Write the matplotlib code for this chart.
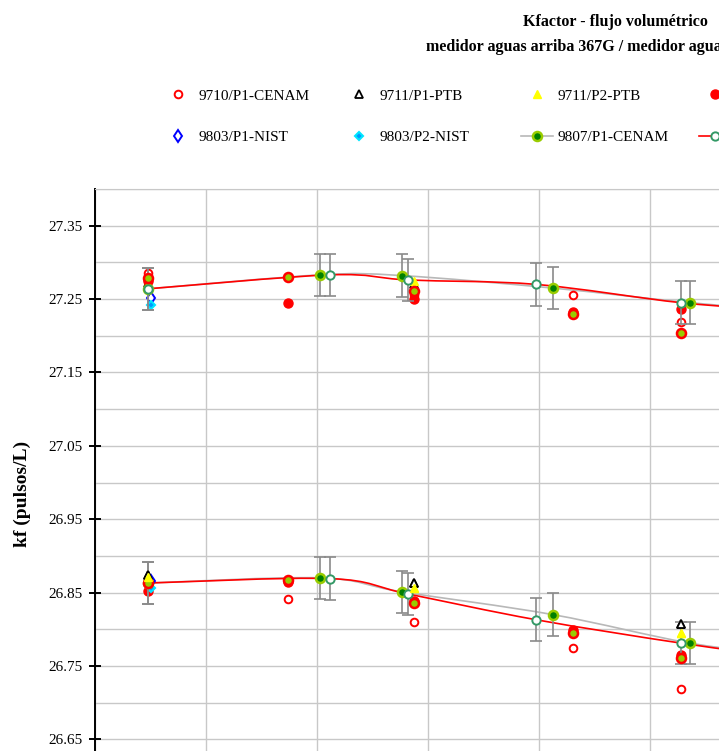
import numpy as np
import matplotlib.pyplot as plt
from matplotlib.path import Path
from matplotlib.patches import PathPatch
from matplotlib.lines import Line2D

plt.rcParams['font.family'] = ['Liberation Serif', 'DejaVu Serif']

# caudal (eje x) y kf: "up" = medidor aguas arriba, "dn" = medidor aguas abajo
x_9710_p1 = [0.48, 1.74, 2.87, 4.30, 5.28]
up_9710_p1 = [27.285, 27.280, 27.255, 27.255, 27.219]
dn_9710_p1 = [26.867, 26.841, 26.810, 26.774, 26.719]

x_9711 = [0.48, 2.87, 5.28]
up_9711_p1 = [27.272, 27.270, np.nan]
dn_9711_p1 = [26.874, 26.863, 26.807]
up_9711_p2 = [27.267, 27.275, np.nan]
dn_9711_p2 = [26.871, 26.856, 26.795]

x_9710_p2 = [0.48, 1.74, 2.87, 4.30, 5.28]
up_9710_p2 = [27.275, 27.245, 27.250, 27.233, 27.237]
dn_9710_p2 = [26.852, 26.865, 26.839, 26.799, 26.765]

x_9803 = [0.50]
up_9803_p1 = [27.252]
dn_9803_p1 = [26.866]
up_9803_p2 = [27.242]
dn_9803_p2 = [26.856]

x_9807_p1 = [0.48, 2.03, 2.76, 4.12, 5.36, 6.35]
up_9807_p1 = [27.264, 27.283, 27.282, 27.265, 27.245, 27.233]
dn_9807_p1 = [26.863, 26.870, 26.851, 26.820, 26.781, 26.762]

x_9807_p2 = [0.48, 2.12, 2.82, 3.97, 5.28, 6.26]
up_9807_p2 = [27.264, 27.283, 27.276, 27.270, 27.245, 27.234]
dn_9807_p2 = [26.863, 26.869, 26.848, 26.813, 26.781, 26.761]

x_9808 = [0.48, 1.74, 2.87, 4.30, 5.28]
up_9808 = [27.279, 27.280, 27.261, 27.229, 27.204]
dn_9808 = [26.863, 26.867, 26.836, 26.795, 26.761]

err_kf = 0.029

ytick_vals = [26.65, 26.75, 26.85, 26.95, 27.05, 27.15, 27.25, 27.35]
ygrid_vals = [26.60, 26.65, 26.70, 26.75, 26.80, 26.85, 26.90, 26.95, 27.00,
              27.05, 27.10, 27.15, 27.20, 27.25, 27.30, 27.35, 27.40]


def smooth_path(x, y):
    # curva suavizada tipo Excel (Bezier por los puntos)
    p = np.column_stack([x, y])
    pts = np.vstack([p[0], p, p[-1]])
    verts = [p[0]]
    codes = [Path.MOVETO]
    for i in range(1, len(pts) - 2):
        c1 = pts[i] + (pts[i + 1] - pts[i - 1]) / 6
        c2 = pts[i + 1] - (pts[i + 2] - pts[i]) / 6
        verts += [c1, c2, pts[i + 1]]
        codes += [Path.CURVE4] * 3
    return Path(verts, codes)


W, H = 719, 751
fig = plt.figure(figsize=(W / 100, H / 100), dpi=100)
ax = fig.add_axes([95 / W, (H - 776) / H, 722 / W, 587 / H])
ax.set_xlim(0, 6.5)
ax.set_ylim(26.60, 27.40)

styles = {
    'p1cenam': dict(marker='o', ms=5.5, mfc='white', mec='red', mew=1.4, ls='none'),
    'p1ptb': dict(marker='^', ms=5.5, mfc='white', mec='black', mew=1.3, ls='none'),
    'p2ptb': dict(marker='^', ms=6, mfc='yellow', mec='yellow', mew=1, ls='none'),
    'p2cenam': dict(marker='o', ms=6.5, mfc='red', mec='red', mew=1, ls='none'),
    'p1nist': dict(marker='d', ms=6, mfc='white', mec='blue', mew=1.4, ls='none'),
    'p2nist': dict(marker='D', ms=4, mfc='#0099ff', mec='#00e5ff', mew=1.5, ls='none'),
    '9807p1': dict(marker='o', ms=6.5, mfc='#008000', mec='#99cc00', mew=1.8, ls='none'),
    '9807p2': dict(marker='o', ms=6, mfc='white', mec='#339966', mew=1.4, ls='none'),
    '9808': dict(marker='o', ms=6.5, mfc='#99cc00', mec='red', mew=1.8, ls='none'),
}

for yy in [up_9710_p1, dn_9710_p1]:
    ax.plot(x_9710_p1, yy, **styles['p1cenam'])
for yy in [up_9711_p1, dn_9711_p1]:
    ax.plot(x_9711, yy, **styles['p1ptb'])
for yy in [up_9711_p2, dn_9711_p2]:
    ax.plot(x_9711, yy, **styles['p2ptb'])
for yy in [up_9710_p2, dn_9710_p2]:
    ax.plot(x_9710_p2, yy, **styles['p2cenam'])
for yy in [up_9803_p1, dn_9803_p1]:
    ax.plot(x_9803, yy, **styles['p1nist'])
for yy in [up_9803_p2, dn_9803_p2]:
    ax.plot(x_9803, yy, **styles['p2nist'])

for xx, yy, col in [(x_9807_p1, up_9807_p1, '#b8b8b8'), (x_9807_p1, dn_9807_p1, '#b8b8b8'),
                    (x_9807_p2, up_9807_p2, 'red'), (x_9807_p2, dn_9807_p2, 'red')]:
    ax.add_patch(PathPatch(smooth_path(xx, yy), fill=False, ec=col, lw=1.2))
    ax.errorbar(xx, yy, yerr=err_kf, fmt='none', ecolor='#8a8a8a', elinewidth=1.2,
                capsize=4, capthick=1.2)

for yy in [up_9807_p1, dn_9807_p1]:
    ax.plot(x_9807_p1, yy, **styles['9807p1'])
for yy in [up_9807_p2, dn_9807_p2]:
    ax.plot(x_9807_p2, yy, **styles['9807p2'])
for yy in [up_9808, dn_9808]:
    ax.plot(x_9808, yy, **styles['9808'])
# triángulos PTB del medidor aguas abajo quedan visibles sobre el resto
ax.plot(x_9711, dn_9711_p1, **styles['p1ptb'])
ax.plot(x_9711, dn_9711_p2, **styles['p2ptb'])

# ejes y rejilla
ax.set_axisbelow(True)
ax.set_yticks(ytick_vals)
ax.set_yticklabels(['%.2f' % v for v in ytick_vals])
ax.set_yticks(ygrid_vals, minor=True)
ax.set_xticks(range(0, 7))
ax.tick_params(axis='x', length=0, labelbottom=False)
ax.tick_params(axis='y', which='major', direction='inout', length=8, width=1.4,
               labelsize=11, pad=5)
ax.tick_params(axis='y', which='minor', length=0)
ax.grid(True, which='both', color='#c8c8c8', lw=1)
ax.spines['left'].set_linewidth(1.4)
ax.spines['top'].set_color('#c8c8c8')
ax.spines['right'].set_visible(False)

fig.text(22 / W, 1 - 494 / H, 'kf (pulsos/L)', rotation=90, ha='center', va='center',
         fontweight='bold', fontsize=14)

fig.text(523 / W, 1 - 22 / H, 'Kfactor - flujo volumétrico', ha='left', va='center',
         fontweight='bold', fontsize=11.5)
fig.text(426 / W, 1 - 47 / H, 'medidor aguas arriba 367G / medidor aguas abajo 367G',
         ha='left', va='center', fontweight='bold', fontsize=11.5)

# leyenda en columnas de ancho fijo
def proxy(key, line=None):
    st = dict(styles[key])
    if line:
        st['ls'] = '-'
        st['color'] = line
        st['lw'] = 1.2
    return Line2D([], [], **st)

columns = [
    [(proxy('p1cenam'), '9710/P1-CENAM'), (proxy('p1nist'), '9803/P1-NIST')],
    [(proxy('p1ptb'), '9711/P1-PTB'), (proxy('p2nist'), '9803/P2-NIST')],
    [(proxy('p2ptb'), '9711/P2-PTB'), (proxy('9807p1', '#b8b8b8'), '9807/P1-CENAM')],
    [(proxy('p2cenam'), '9710/P2-CENAM'), (proxy('9807p2', 'red'), '9807/P2-CENAM')],
]
col_centers = [178, 359, 537, 715]
for cx, entries in zip(col_centers, columns):
    fig.legend([e[0] for e in entries], [e[1] for e in entries],
               loc='center left', bbox_to_anchor=((cx - 16) / W, 1 - 116.5 / H),
               frameon=False, fontsize=11, borderpad=0, borderaxespad=0,
               handlelength=2.1, handletextpad=0.3, labelspacing=1.8)

fig.savefig('out.png', dpi=100)
